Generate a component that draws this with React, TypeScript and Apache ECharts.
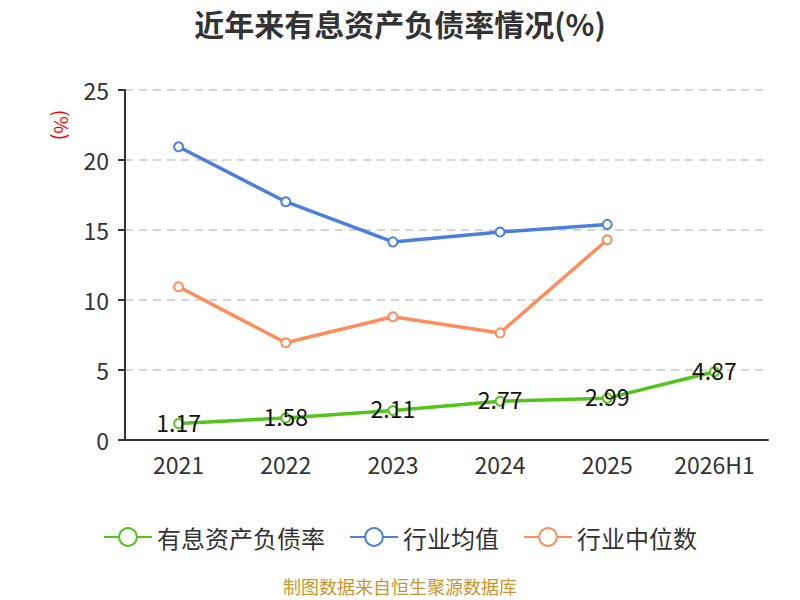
import React, { useEffect, useRef } from 'react'
import * as echarts from 'echarts'

const categories = ['2021', '2022', '2023', '2024', '2025', '2026H1']
const debtRatio = [1.17, 1.58, 2.11, 2.77, 2.99, 4.87]
const industryAvg = [20.95, 17.02, 14.15, 14.86, 15.4, null]
const industryMedian = [10.95, 6.95, 8.8, 7.65, 14.3, null]
const yTicks = [0, 5, 10, 15, 20, 25]

const fontFamily = '"Noto Sans CJK SC", "Noto Sans", sans-serif'

const App = () => {
  const chartRef = useRef<HTMLDivElement>(null)

  useEffect(() => {
    document.body.style.margin = '0'
    if (!chartRef.current) return
    const chart = echarts.init(chartRef.current, null, { renderer: 'svg' })

    const option: echarts.EChartsOption = {
      animation: false,
      textStyle: { fontFamily },
      title: {
        text: '近年来有息资产负债率情况(%)',
        left: 'center',
        top: 3,
        textStyle: { fontSize: 30, fontWeight: 'bold', color: '#333' },
      },
      legend: {
        top: 520,
        itemWidth: 48,
        itemHeight: 22,
        itemGap: 24,
        textStyle: { fontSize: 24, color: '#333' },
        data: ['有息资产负债率', '行业均值', '行业中位数'],
      },
      graphic: [
        {
          type: 'text',
          x: 62,
          y: 125,
          rotation: -Math.PI / 2,
          style: {
            text: '(%)',
            fontSize: 19,
            fill: '#ff0000',
            fontFamily,
            align: 'center',
            verticalAlign: 'middle',
          },
        },
        {
          type: 'text',
          left: 'center',
          top: 577,
          style: { text: '制图数据来自恒生聚源数据库', fontSize: 18, fill: '#c8962c', fontFamily },
        },
      ],
      grid: { left: 125, right: 32, top: 90, bottom: 160 },
      xAxis: {
        type: 'category',
        data: categories,
        axisLine: { lineStyle: { color: '#333', width: 2 } },
        axisTick: { length: 7, lineStyle: { color: '#333', width: 2 } },
        axisLabel: { fontSize: 23, color: '#333', margin: 12 },
      },
      yAxis: {
        type: 'value',
        min: 0,
        max: yTicks[yTicks.length - 1],
        interval: 5,
        axisLine: { show: true, lineStyle: { color: '#333', width: 2 } },
        axisTick: { show: true, length: 7, lineStyle: { color: '#333', width: 2 } },
        axisLabel: { fontSize: 23, color: '#333', margin: 16 },
        splitLine: { lineStyle: { type: [8, 6], color: '#c8c8c8', width: 1.5 } },
      },
      series: [
        {
          name: '有息资产负债率',
          type: 'line',
          data: debtRatio,
          symbol: 'emptyCircle',
          symbolSize: 9,
          color: '#52c41a',
          lineStyle: { width: 3.5 },
          itemStyle: { borderWidth: 2 },
          label: {
            show: true,
            position: 'inside',
            offset: [0, -2],
            fontSize: 23,
            color: '#111',
          },
          z: 3,
        },
        {
          name: '行业均值',
          type: 'line',
          data: industryAvg,
          symbol: 'emptyCircle',
          symbolSize: 9,
          color: '#4a7fe0',
          lineStyle: { width: 3.5 },
          itemStyle: { borderWidth: 2 },
        },
        {
          name: '行业中位数',
          type: 'line',
          data: industryMedian,
          symbol: 'emptyCircle',
          symbolSize: 9,
          color: '#ff8c5a',
          lineStyle: { width: 3.5 },
          itemStyle: { borderWidth: 2 },
        },
      ],
    }

    chart.setOption(option)
    return () => {
      chart.dispose()
    }
  }, [])

  return <div ref={chartRef} style={{ width: 800, height: 600 }} />
}

export default App
